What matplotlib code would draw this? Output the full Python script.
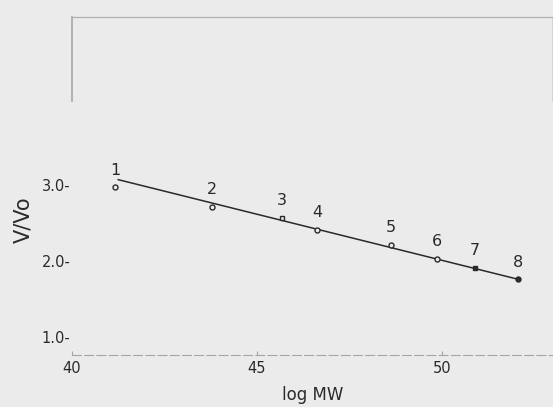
import matplotlib
matplotlib.use("Agg")
import matplotlib.pyplot as plt

# ==================== data ====================
log_mw = [41.16, 43.78, 45.68, 46.62, 48.62, 49.86, 50.89, 52.05]
v_ratio = [2.97, 2.71, 2.57, 2.41, 2.21, 2.03, 1.91, 1.76]
point_labels = ["1", "2", "3", "4", "5", "6", "7", "8"]
markers = ["o", "o", "s", "o", "o", "o", "s", "o"]
filled = [False, False, False, False, False, False, True, True]

# fitted line end points
fit_x = [41.25, 52.05]
fit_y = [3.07, 1.76]

x_ticks = [40, 45, 50]
x_ticklabels = ["40", "45", "50"]
y_ticks = [1.0, 2.0, 3.0]
y_ticklabels = ["1.0-", "2.0-", "3.0-"]

# ==================== style ====================
BG = "#ebebeb"
INK = "#2a2a2a"
FAINT = "#a5a5a5"
plt.rcParams["font.family"] = ["DejaVu Sans"]

fig = plt.figure(figsize=(5.53, 4.07), dpi=100, facecolor=BG)

# remnant of the upper panel (only top and left frame visible)
ax_top = fig.add_axes([72 / 553, 1 - 101 / 407, 480 / 553, 84 / 407])
ax_top.set_facecolor("none")
ax_top.spines["bottom"].set_visible(False)
ax_top.spines["top"].set_color("#b0b0b0")
ax_top.spines["left"].set_color("#a0a0a0")
ax_top.spines["right"].set_color("#d0d0d0")
ax_top.spines["top"].set_linewidth(0.9)
ax_top.spines["left"].set_linewidth(1.1)
ax_top.spines["right"].set_linewidth(0.6)
ax_top.set_xticks([])
ax_top.set_yticks([])

# main panel
ax = fig.add_axes([72 / 553, 1 - 355 / 407, 481 / 553, 235 / 407])
ax.set_facecolor("none")
ax.set_xlim(40, 53.0)
ax.set_ylim(0.763, 3.855)

ax.plot(fit_x, fit_y, color=INK, lw=1.1, zorder=2)

for x, y, lab, m, f in zip(log_mw, v_ratio, point_labels, markers, filled):
    ax.plot(x, y, marker=m, ms=3.6 if m == "o" else 3.4,
            mfc=INK if f else BG, mec=INK, mew=1.0, ls="none", zorder=3)
    ax.annotate(lab, (x, y), xytext=(0, 7), textcoords="offset points",
                ha="center", va="bottom", fontsize=11.5, color=INK)

for side in ["top", "right", "left"]:
    ax.spines[side].set_visible(False)
ax.spines["bottom"].set_color(FAINT)
ax.spines["bottom"].set_linewidth(0.8)
ax.spines["bottom"].set_linestyle((0, (8, 3)))

ax.set_xticks(x_ticks)
ax.set_xticklabels(x_ticklabels)
ax.set_yticks(y_ticks)
ax.set_yticklabels(y_ticklabels)
ax.tick_params(axis="x", direction="in", length=3, width=0.8, color=FAINT,
               labelsize=10.5, labelcolor=INK, pad=4)
ax.tick_params(axis="y", length=0, labelsize=10.5, labelcolor=INK, pad=1)

fig.text(313 / 553, 1 - 395 / 407, "log MW", ha="center", va="center",
         fontsize=12, color=INK)
fig.text(23 / 553, 1 - 220 / 407, "V/Vo", ha="center", va="center",
         rotation=90, fontsize=15, color=INK)

fig.savefig("out.png", dpi=100, facecolor=BG)
